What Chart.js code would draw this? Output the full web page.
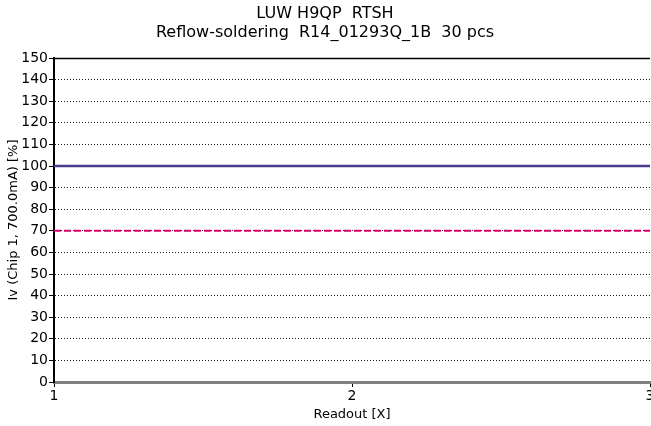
<!DOCTYPE html>
<html><head><meta charset="utf-8">
<script src="https://cdn.jsdelivr.net/npm/chart.js@4"></script>
<style>html,body{margin:0;padding:0;background:#fff}#c{display:block}</style>
</head><body>
<canvas id="c" width="651" height="426"></canvas>
<script>
const titleLines = ["LUW H9QP  RTSH", "Reflow-soldering  R14_01293Q_1B  30 pcs"];
const readouts = [1, 2, 3];
const ivValues = [100, 100, 100];
const limitValues = [70, 70, 70];
const yTicks = [0,10,20,30,40,50,60,70,80,90,100,110,120,130,140,150];
const xLabel = "Readout [X]";
const yLabel = "Iv (Chip 1, 700.0mA) [%]";

const FONT = "'DejaVu Sans', Verdana, sans-serif";

const toPts = (xs, ys) => xs.map((x, i) => ({x, y: ys[i]}));

const topLine = {
  id: 'topLine',
  afterDraw(chart) {
    const {ctx, chartArea: a} = chart;
    ctx.save();
    ctx.strokeStyle = '#000';
    ctx.lineWidth = 1.5;
    ctx.beginPath();
    ctx.moveTo(a.left, a.top + 0.5);
    ctx.lineTo(a.right, a.top + 0.5);
    ctx.stroke();
    ctx.restore();
  }
};

new Chart(document.getElementById('c'), {
  type: 'line',
  data: {
    datasets: [
      { data: toPts(readouts, ivValues), borderColor: '#4b3b8e', borderWidth: 2.5, pointRadius: 0, fill: false },
      { data: toPts(readouts, limitValues), borderColor: '#d4006a', borderWidth: 2, borderDash: [7,3], pointRadius: 0, fill: false }
    ]
  },
  plugins: [topLine],
  options: {
    responsive: false,
    animation: false,
    layout: { padding: { left: 0, right: 1, top: 0, bottom: 0 } },
    plugins: {
      legend: { display: false },
      tooltip: { enabled: false },
      title: {
        display: true, text: titleLines, color: '#000',
        font: { family: FONT, size: 16, weight: 'normal', lineHeight: 1.2 },
        padding: { top: 4, bottom: 15.6 }
      }
    },
    scales: {
      x: {
        type: 'linear', min: 1, max: 3,
        afterBuildTicks: s => { s.ticks = readouts.map(v => ({value: v})); },
        afterFit: s => { s.height = 44; s.paddingLeft = 0; s.paddingRight = 0; },
        ticks: { color: '#000', font: { family: FONT, size: 14 }, padding: 1, maxRotation: 0 },
        grid: { display: true, drawOnChartArea: false, color: '#000', tickLength: 5 },
        border: { display: true, color: '#7f7f7f', width: 3 },
        title: { display: true, text: xLabel, color: '#000', font: { family: FONT, size: 13 }, padding: { top: 0, bottom: 4 } }
      },
      y: {
        min: 0, max: 150,
        afterBuildTicks: s => { s.ticks = yTicks.map(v => ({value: v})); },
        afterFit: s => { s.width = 54; },
        ticks: { color: '#000', font: { family: FONT, size: 14 }, padding: 1 },
        grid: { color: '#222', lineWidth: 1, tickLength: 5, tickBorderDash: [], tickColor: '#000' },
        border: { display: true, color: '#000', width: 2, dash: [1, 2] },
        title: { display: true, text: yLabel, color: '#000', font: { family: FONT, size: 13 }, padding: { top: 6, bottom: 2 } }
      }
    }
  }
});
</script>
</body></html>
